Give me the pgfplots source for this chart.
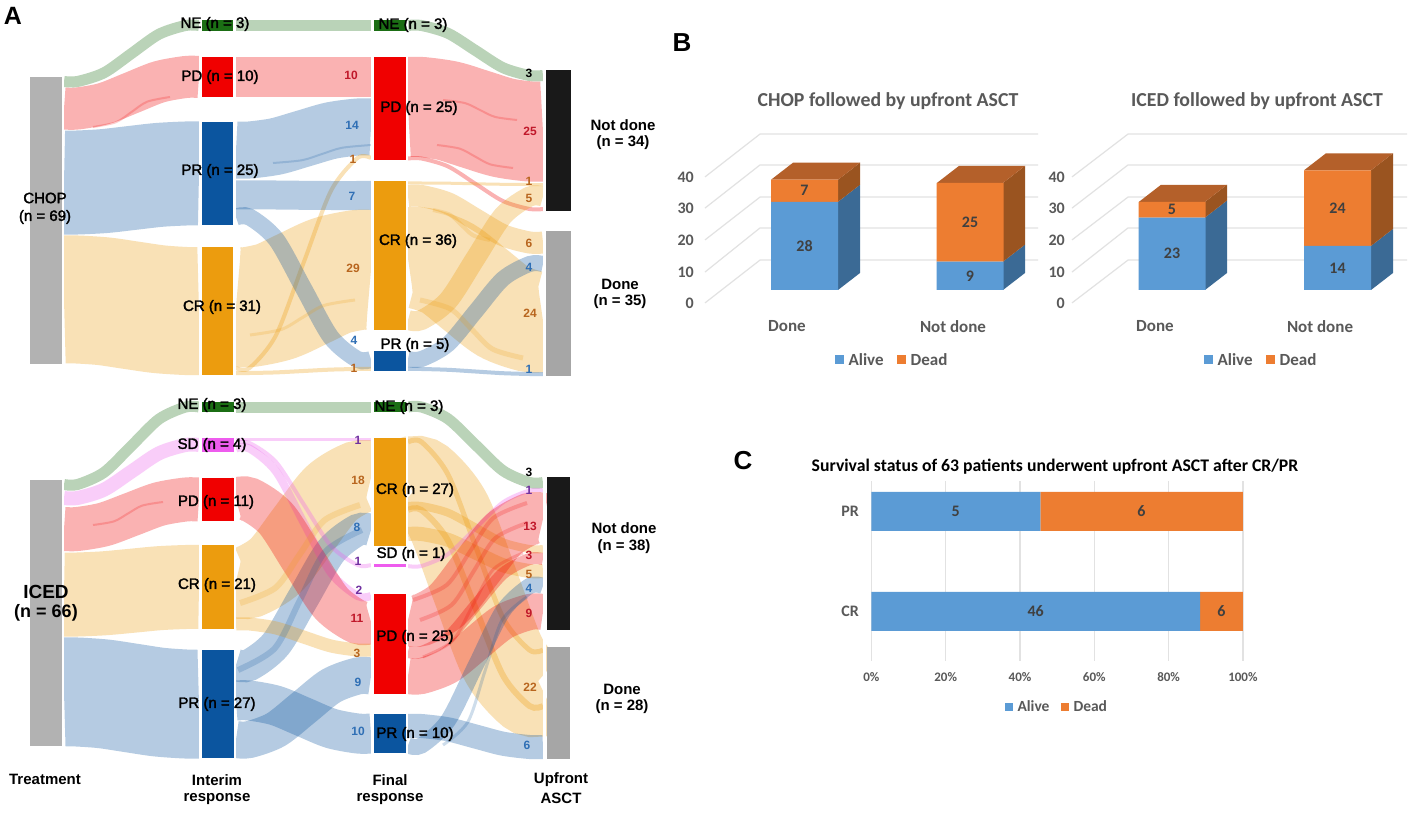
\documentclass[border=0pt]{standalone}
\usepackage{fontspec}
\usepackage{pgfplots}
\pgfplotsset{compat=1.18}
\setmainfont{Liberation Sans}
\newfontfamily\lblfont[FakeBold=2]{Liberation Sans}
\newfontfamily\calfont{Carlito}
\newcommand\fs[1]{\fontsize{#1}{#1}\selectfont}

\definecolor{ne}{HTML}{1B6E14}
\definecolor{pd}{HTML}{F00000}
\definecolor{pr}{HTML}{0B559F}
\definecolor{cr}{HTML}{EC9C0E}
\definecolor{sd}{HTML}{EE5CEE}
\definecolor{alive}{HTML}{5B9BD5}
\definecolor{dead}{HTML}{ED7D31}
\definecolor{aliveside}{HTML}{3B6A95}
\definecolor{deadside}{HTML}{9A5420}
\definecolor{deadtop}{HTML}{B4602A}
\definecolor{gridc}{HTML}{E2E2E2}
\definecolor{txtc}{HTML}{595959}
\definecolor{numred}{HTML}{C0182A}
\definecolor{numblue}{HTML}{2F6FB5}
\definecolor{numbrown}{HTML}{B8651E}
\definecolor{numpurple}{HTML}{7030A0}

% x stations of a flow, one set per gap between columns
\newcommand\setgap[7]{\def\xa{#1}\def\xb{#2}\def\xc{#3}\def\xd{#4}\def\xe{#5}\def\xf{#6}\def\xg{#7}}
% colour, width, y at start, three y along the way, y at end
\newcommand\flow[7]{\addplot[draw=#1,line width=#2pt,opacity=.3,smooth] coordinates
  {(\xa,#3) (\xb,#3) (\xc,#4) (\xd,#5) (\xe,#6) (\xf,#7) (\xg,#7)};}
\newcommand\sliver[7]{\addplot[draw=#1,line width=#2pt,opacity=.2,smooth] coordinates
  {(\xa,#3) (\xc,#4) (\xd,#5) (\xe,#6) (\xg,#7)};}
\newcommand\col[5]{\addplot[fill=#1,draw=none] coordinates {(#2,#4) (#3,#4) (#3,#5) (#2,#5)} -- cycle;}
\newcommand\lbl[3]{\node[font=\lblfont\fs{15},inner sep=0pt] at (axis cs:#1,#2) {#3};}
\newcommand\hd[3]{\node[font=\bfseries\fs{15},inner sep=0pt] at (axis cs:#1,#2) {#3};}
\newcommand\num[4]{\node[font=\bfseries\fs{12},text=#4,inner sep=0pt] at (axis cs:#1,#2) {#3};}
\newcommand\val[3]{\node[font=\calfont\bfseries\fs{16},text=black!75,inner sep=0pt] at (axis cs:#1,#2) {#3};}

\pgfplotsset{
  wall/.style={x=1pt,y=3.15pt,ymin=-6,ymax=52,clip=false,scale only axis},
  wallaxis/.style={wall,axis line style={draw=none},major tick length=0pt,
    ytick={-4.1,5.7,15.9,26,35.9},yticklabels={0,10,20,30,40},
    yticklabel style={font=\calfont\bfseries\fs{16},text=txtc,inner sep=0pt,xshift=-1pt},
    xticklabel style={font=\calfont\bfseries\fs{17},text=txtc,yshift=-8pt}},
  wallbars/.style={wall,hide axis,ybar stacked,bar width=67pt,xtick=\empty,
    legend cell align=left,legend columns=2,
    legend style={draw=none,fill=none,anchor=center,font=\calfont\bfseries\fs{17},text=txtc,
      /tikz/every even column/.style={column sep=11pt},
      /tikz/every odd column/.style={column sep=3pt}},
    legend image code/.code={\fill[##1] (0pt,-4.5pt) rectangle (9pt,4.5pt);}},
  cgeom/.style={at={(871.4pt,152pt)},anchor=south west,x=3.715pt,y=100pt,scale only axis,clip=false,
    xmin=0,xmax=100,ymin=-0.495,ymax=1.305},
}

\begin{document}
\begin{tikzpicture}
\begin{axis}[at={(0pt,0pt)},anchor=south west,x=1pt,y=1pt,y dir=reverse,scale only axis,
  xmin=0,xmax=1413,ymin=0,ymax=813,hide axis,clip=false]
\addplot[fill=white,draw=none] coordinates {(0,0) (1413,0) (1413,813) (0,813)} -- cycle;

%% --- top sankey, CHOP ---
\setgap{64}{77.5}{104}{131.5}{159}{185.5}{199}
\flow{ne}{11}{81.5}{72.8}{53.5}{34.2}{25.5}
\flow{pd}{42}{108.5}{103.6}{92.8}{81.9}{77}
\flow{pr}{104}{182.5}{181.1}{178}{174.9}{173.5}
\flow{cr}{128}{299.5}{301.3}{305.3}{309.2}{311}
\setgap{236}{249.5}{276}{303.5}{331}{357.5}{371}
\flow{ne}{11}{25.5}{25.5}{25.5}{25.5}{25.5}
\flow{pd}{40}{77}{77}{77}{77}{77}
\flow{pr}{57}{150}{146.4}{138.5}{130.6}{127}
\flow{cr}{4}{368}{335.2}{263}{190.8}{158}
\flow{pr}{29}{195}{195}{195.3}{195.5}{195.5}
\flow{cr}{120}{307}{301.2}{288.5}{275.8}{270}
\flow{pr}{17}{217}{239.2}{288.2}{337.3}{359.5}
\flow{cr}{4}{373}{372.4}{371}{369.6}{369}
\setgap{408}{421.5}{448}{475.5}{503}{529.5}{543}
\flow{ne}{11}{25.5}{33.3}{50.5}{67.7}{75.5}
\flow{pd}{100}{107}{110.8}{119.3}{127.7}{131.5}
\flow{pd}{4}{158.5}{166.4}{183.8}{201.1}{209}
\flow{cr}{3}{183}{183.2}{183.8}{184.3}{184.5}
\flow{cr}{22}{196}{203.3}{219.3}{235.2}{242.5}
\flow{cr}{102}{258.5}{268.3}{289.8}{311.3}{321}
\flow{cr}{20}{320}{300.7}{258.3}{215.8}{196.5}
\flow{pr}{16}{359}{344.2}{311.5}{278.8}{264}
\flow{pr}{4}{369}{369.8}{371.5}{373.2}{374}
%% darker slivers where flows of one colour overlap
\setgap{93}{100.7}{115.9}{131.5}{147.1}{162.3}{170}
\sliver{pd}{2}{127}{122.3}{112}{101.7}{97}
\setgap{273}{282.8}{302.1}{322}{341.9}{361.2}{371}
\sliver{pr}{2}{163}{160.2}{154}{147.8}{145}
\setgap{250}{260.5}{281.2}{302.5}{323.8}{344.5}{355}
\sliver{cr}{3}{335}{329.5}{317.5}{305.5}{300}
\setgap{443}{450.4}{465}{480}{495}{509.6}{517}
\sliver{pd}{2}{100}{103.1}{110}{116.9}{120}
\setgap{437}{444.6}{459.6}{475}{490.4}{505.4}{513}
\sliver{pd}{2}{145}{148.6}{156.5}{164.4}{168}
\setgap{420}{430.3}{450.6}{471.5}{492.4}{512.7}{523}
\sliver{cr}{5}{300}{309}{329}{349}{358}
\setgap{433}{438.7}{449.9}{461.5}{473.1}{484.3}{490}
\sliver{cr}{4}{210}{214.7}{225}{235.3}{240}

%% --- bottom sankey, ICED ---
\setgap{64}{77.5}{104}{131.5}{159}{185.5}{199}
\flow{ne}{11}{484.5}{472.4}{445.8}{419.1}{407}
\flow{sd}{14}{498}{489.7}{471.5}{453.3}{445}
\flow{pd}{44}{529}{524.4}{514.3}{504.1}{499.5}
\flow{cr}{84}{594.5}{593.3}{590.8}{588.2}{587}
\flow{pr}{109}{692}{693.9}{698}{702.1}{704}
\setgap{236}{249.5}{276}{303.5}{331}{357.5}{371}
\flow{ne}{11}{407}{407}{407}{407}{407}
\flow{sd}{3}{439.5}{439.5}{439.5}{439.5}{439.5}
\flow{cr}{73}{581.5}{565.3}{529.5}{493.7}{477.5}
\flow{pr}{32}{665}{644}{597.5}{551}{530}
\flow{sd}{4}{443}{462}{504}{546}{565}
\flow{sd}{8}{448.5}{471.5}{522.3}{573}{596}
\flow{pd}{44}{499.5}{518.6}{560.8}{602.9}{622}
\flow{cr}{13}{624}{628}{637}{646}{650}
\flow{pr}{37}{739.5}{729.6}{707.8}{685.9}{676}
\flow{pr}{40}{700.5}{705.6}{717}{728.4}{733.5}
\setgap{408}{421.5}{448}{475.5}{503}{529.5}{543}
\flow{ne}{11}{407}{418.8}{444.8}{470.7}{482.5}
\flow{cr}{88}{482}{514.6}{586.5}{658.4}{691}
\flow{cr}{8}{506}{512.7}{527.5}{542.3}{549}
\flow{cr}{14}{534}{539.8}{552.5}{565.2}{571}
\flow{cr}{5}{442}{474.6}{546}{618}{650}
\flow{cr}{6}{510}{540.6}{608}{675.4}{706}
\flow{sd}{4}{566}{554.2}{528.3}{502.3}{490.5}
\flow{pd}{52}{620}{604.2}{569.5}{534.8}{519}
\flow{pd}{12}{652}{637.5}{605.5}{573.5}{559}
\flow{pd}{36}{676}{666}{644}{622}{612}
\flow{pr}{24}{726}{729.3}{736.5}{743.7}{747}
\flow{pr}{16}{745.5}{720.6}{665.8}{611}{586}
%% darker slivers
\setgap{93}{100}{113.8}{128}{142.2}{156}{163}
\sliver{pd}{2}{525}{521.4}{513.5}{505.6}{502}
\setgap{238}{250.4}{274.8}{300}{325.2}{349.6}{362}
\sliver{pr}{6}{670}{648.2}{600}{551.8}{530}
\setgap{240}{252}{275.6}{300}{324.4}{348}{360}
\sliver{cr}{6}{603}{587.7}{554}{520.3}{505}
\setgap{413}{424.4}{446.8}{470}{493.2}{515.6}{527}
\sliver{pd}{4}{600}{584.9}{551.5}{518.1}{503}
\setgap{420}{430.7}{451.7}{473.5}{495.3}{516.3}{527}
\sliver{pd}{4}{620}{604.9}{571.5}{538.1}{523}
\setgap{423}{433}{452.6}{473}{493.4}{513}{523}
\sliver{pd}{3}{657}{640.8}{605}{569.2}{553}
\setgap{443}{451.4}{467.9}{485}{502.1}{518.6}{527}
\sliver{pr}{3}{745}{721.9}{671}{620.1}{597}

%% --- white strips trim the flow ends square ---
\col{white}{62}{64}{0}{775}
\col{white}{199}{202}{0}{775}
\col{white}{233}{236}{0}{775}
\col{white}{371}{374}{0}{775}
\col{white}{406}{408}{0}{775}
\col{white}{543}{546}{0}{775}

%% --- columns ---
\col{black!30}{30}{62}{77}{364}
\col{ne}{202}{233}{20}{31}
\col{pd}{202}{233}{57}{97}
\col{pr}{202}{233}{122}{225}
\col{cr}{202}{233}{247}{375}
\col{ne}{374}{406}{20}{31}
\col{pd}{374}{406}{57}{160}
\col{cr}{374}{406}{181}{330}
\col{pr}{374}{406}{351}{371}
\col{black!90}{546}{571}{70}{211}
\col{black!35}{546}{571}{231}{376}
\col{black!30}{30}{62}{480}{746}
\col{ne}{202}{234}{402}{412}
\col{sd}{202}{234}{438}{452}
\col{pd}{202}{234}{478}{521}
\col{cr}{202}{234}{545}{629}
\col{pr}{202}{234}{650}{758}
\col{ne}{374}{406}{402}{412}
\col{cr}{374}{406}{438}{546}
\col{sd}{374}{406}{564}{567}
\col{pd}{374}{406}{594}{694}
\col{pr}{374}{406}{714}{753}
\col{black!90}{547}{570}{477}{630}
\col{black!35}{547}{570}{647}{759}

%% --- node labels ---
\lbl{215}{24}{NE (n = 3)}
\lbl{220}{77}{PD (n = 10)}
\lbl{220}{171}{PR (n = 25)}
\lbl{222}{307}{CR (n = 31)}
\lbl{413}{25}{NE (n = 3)}
\lbl{419}{108}{PD (n = 25)}
\lbl{418}{241}{CR (n = 36)}
\lbl{415}{345}{PR (n = 5)}
\lbl{45}{198}{CHOP}
\lbl{45}{217}{(n = 69)}
\lbl{212}{405}{NE (n = 3)}
\lbl{212}{445}{SD (n = 4)}
\lbl{216}{502}{PD (n = 11)}
\lbl{217}{585}{CR (n = 21)}
\lbl{217}{704}{PR (n = 27)}
\lbl{409}{407}{NE (n = 3)}
\lbl{415}{490}{CR (n = 27)}
\lbl{411}{554}{SD (n = 1)}
\lbl{415}{637}{PD (n = 25)}
\lbl{415}{734}{PR (n = 10)}
\node[font=\bfseries\fs{19},inner sep=0pt] at (axis cs:46,592) {ICED};
\node[font=\bfseries\fs{18},inner sep=0pt] at (axis cs:46,613) {(n = 66)};

\hd{623}{125}{Not done}
\hd{623}{143}{(n = 34)}
\hd{620}{284}{Done}
\hd{620}{302}{(n = 35)}
\hd{624}{528}{Not done}
\hd{624}{547}{(n = 38)}
\hd{622}{689}{Done}
\hd{622}{707}{(n = 28)}
\hd{45}{779}{Treatment}
\hd{217}{780}{Interim}
\hd{217}{799}{response}
\hd{390}{780}{Final}
\hd{390}{799}{response}
\hd{561}{780}{Upfront}
\hd{561}{798}{ASCT}

%% --- flow counts ---
\num{351}{75}{10}{numred}
\num{352}{125}{14}{numblue}
\num{353}{159}{1}{numbrown}
\num{352}{196}{7}{numblue}
\num{353}{268}{29}{numbrown}
\num{354}{340}{4}{numblue}
\num{354}{368}{1}{numbrown}
\num{529}{73}{3}{black}
\num{530}{131}{25}{numred}
\num{529}{181}{1}{numbrown}
\num{529}{198}{5}{numbrown}
\num{529}{243}{6}{numbrown}
\num{529}{267}{4}{numblue}
\num{530}{313}{24}{numbrown}
\num{529}{369}{1}{numblue}
\num{358}{440}{1}{numpurple}
\num{358}{480}{18}{numbrown}
\num{357}{527}{8}{numblue}
\num{358}{561}{1}{numpurple}
\num{359}{590}{2}{numpurple}
\num{357}{618}{11}{numred}
\num{357}{653}{3}{numbrown}
\num{358}{682}{9}{numblue}
\num{358}{731}{10}{numblue}
\num{529}{472}{3}{black}
\num{529}{490}{1}{numpurple}
\num{530}{526}{13}{numred}
\num{529}{555}{3}{numred}
\num{529}{574}{5}{numbrown}
\num{529}{588}{4}{numblue}
\num{529}{613}{9}{numred}
\num{530}{687}{22}{numbrown}
\num{527}{745}{6}{numblue}

%% --- panel letters and titles ---
\node[font=\bfseries\fs{25},inner sep=0pt] at (axis cs:13,16) {A};
\node[font=\bfseries\fs{26},inner sep=0pt] at (axis cs:682,43) {B};
\node[font=\bfseries\fs{26},inner sep=0pt] at (axis cs:743,461) {C};
\node[font=\calfont\bfseries\fs{19.8},text=txtc,inner sep=0pt] at (axis cs:888,101) {CHOP followed by upfront ASCT};
\node[font=\calfont\bfseries\fs{19.8},text=txtc,inner sep=0pt] at (axis cs:1257,101) {ICED followed by upfront ASCT};
\node[font=\calfont\bfseries\fs{17.7},inner sep=0pt] at (axis cs:1055,467) {Survival status of 63 patients underwent upfront ASCT after CR/PR};
\end{axis}

%% --- B, left chart: walls and sides ---
\begin{axis}[wallaxis,at={(695pt,504.1pt)},anchor=south west,xmin=695,xmax=1040,
  xtick={787,953},xticklabels={Done,Not done}]
\addplot[gridc,line width=1.2pt] coordinates {(705,-4.1) (760,9.5) (1038,9.5)};
\addplot[gridc,line width=1.2pt] coordinates {(705,5.7) (760,19.7) (1038,19.7)};
\addplot[gridc,line width=1.2pt] coordinates {(705,15.9) (760,29.5) (1038,29.5)};
\addplot[gridc,line width=1.2pt] coordinates {(705,26) (760,39.7) (1038,39.7)};
\addplot[gridc,line width=1.2pt] coordinates {(705,35.9) (760,49.5) (1038,49.5)};
\addplot[fill=aliveside,draw=none] coordinates {(838,0) (860,5.4) (860,33.4) (838,28)} -- cycle;
\addplot[fill=deadside,draw=none] coordinates {(838,28) (860,33.4) (860,40.4) (838,35)} -- cycle;
\addplot[fill=deadtop,draw=none] coordinates {(771,35) (838,35) (860,40.4) (793,40.4)} -- cycle;
\addplot[fill=aliveside,draw=none] coordinates {(1003,0) (1025,5.4) (1025,14.4) (1003,9)} -- cycle;
\addplot[fill=deadside,draw=none] coordinates {(1003,9) (1025,14.4) (1025,39.4) (1003,34)} -- cycle;
\addplot[fill=deadtop,draw=none] coordinates {(937,34) (1003,34) (1025,39.4) (959,39.4)} -- cycle;
\end{axis}
\begin{axis}[wallbars,at={(695pt,504.1pt)},anchor=south west,xmin=695,xmax=1040,
  legend style={at={(axis cs:892,-22.2)}}]
\addplot[fill=alive,draw=none] coordinates {(804.5,28) (970,9)};
\addplot[fill=dead,draw=none] coordinates {(804.5,7) (970,25)};
\legend{Alive,Dead}
\end{axis}
%% stacked bars are painted last, so their numbers need an axis of their own
\begin{axis}[wall,hide axis,at={(695pt,504.1pt)},anchor=south west,xmin=695,xmax=1040]
\val{804.5}{14}{28}
\val{804.5}{31.5}{7}
\val{970}{4.5}{9}
\val{970}{21.5}{25}
\end{axis}

%% --- B, right chart ---
\begin{axis}[wallaxis,at={(1066pt,504.1pt)},anchor=south west,xmin=1066,xmax=1410,
  xtick={1155,1320},xticklabels={Done,Not done}]
\addplot[gridc,line width=1.2pt] coordinates {(1072,-4.1) (1128,9.5) (1407,9.5)};
\addplot[gridc,line width=1.2pt] coordinates {(1072,5.7) (1128,19.7) (1407,19.7)};
\addplot[gridc,line width=1.2pt] coordinates {(1072,15.9) (1128,29.5) (1407,29.5)};
\addplot[gridc,line width=1.2pt] coordinates {(1072,26) (1128,39.7) (1407,39.7)};
\addplot[gridc,line width=1.2pt] coordinates {(1072,35.9) (1128,49.5) (1407,49.5)};
\addplot[fill=aliveside,draw=none] coordinates {(1205,0) (1227,5.4) (1227,28.4) (1205,23)} -- cycle;
\addplot[fill=deadside,draw=none] coordinates {(1205,23) (1227,28.4) (1227,33.4) (1205,28)} -- cycle;
\addplot[fill=deadtop,draw=none] coordinates {(1139,28) (1205,28) (1227,33.4) (1161,33.4)} -- cycle;
\addplot[fill=aliveside,draw=none] coordinates {(1371,0) (1393,5.4) (1393,19.4) (1371,14)} -- cycle;
\addplot[fill=deadside,draw=none] coordinates {(1371,14) (1393,19.4) (1393,43.4) (1371,38)} -- cycle;
\addplot[fill=deadtop,draw=none] coordinates {(1304,38) (1371,38) (1393,43.4) (1326,43.4)} -- cycle;
\end{axis}
\begin{axis}[wallbars,at={(1066pt,504.1pt)},anchor=south west,xmin=1066,xmax=1410,
  legend style={at={(axis cs:1261,-22.2)}}]
\addplot[fill=alive,draw=none] coordinates {(1172,23) (1337.5,14)};
\addplot[fill=dead,draw=none] coordinates {(1172,5) (1337.5,24)};
\legend{Alive,Dead}
\end{axis}
\begin{axis}[wall,hide axis,at={(1066pt,504.1pt)},anchor=south west,xmin=1066,xmax=1410]
\val{1172}{11.5}{23}
\val{1172}{25.5}{5}
\val{1337.5}{7}{14}
\val{1337.5}{26}{24}
\end{axis}

%% --- C ---
\begin{axis}[cgeom,xbar stacked,bar width=39pt,
  axis line style={draw=none},major tick length=0pt,
  xmajorgrids,grid style={gridc,line width=1.2pt},
  xtick={0,20,40,60,80,100},xticklabels={0\%,20\%,40\%,60\%,80\%,100\%},
  ytick={0,1},yticklabels={CR,PR},
  xticklabel style={font=\calfont\bfseries\fs{13},text=txtc,yshift=-8pt},
  yticklabel style={font=\calfont\bfseries\fs{16},text=txtc,xshift=-9pt},
  legend cell align=left,legend columns=2,
  legend style={draw=none,fill=none,anchor=center,at={(axis cs:49.9,-0.955)},
    font=\calfont\bfseries\fs{15.5},text=txtc,/tikz/every even column/.style={column sep=9pt},
    /tikz/every odd column/.style={column sep=3pt}},
  legend image code/.code={\fill[#1] (0pt,-4pt) rectangle (8pt,4pt);}]
\addplot[fill=alive,draw=none] coordinates {(88.46,0) (45.45,1)};
\addplot[fill=dead,draw=none] coordinates {(11.54,0) (54.55,1)};
\legend{Alive,Dead}
\end{axis}
\begin{axis}[cgeom,hide axis]
\val{22.7}{1}{5}
\val{72.7}{1}{6}
\val{44.2}{0}{46}
\val{94.2}{0}{6}
\end{axis}
\end{tikzpicture}
\end{document}
